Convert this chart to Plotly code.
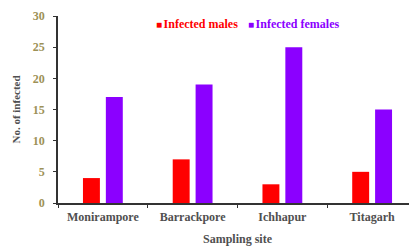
import plotly.graph_objects as go

sites = ["Monirampore", "Barrackpore", "Ichhapur", "Titagarh"]
males = [4, 7, 3, 5]
females = [17, 19, 25, 15]
y_ticks = [0, 5, 10, 15, 20, 25, 30]
series_names = ["Infected males", "Infected females"]

RED = "#ff0000"
PURPLE = "#8b00ff"
FONT = "Liberation Serif"
GREY = "#505050"

fig = go.Figure()
fig.add_trace(go.Bar(x=sites, y=males, marker=dict(color=RED, line=dict(width=0)),
                     name=series_names[0], showlegend=False))
fig.add_trace(go.Bar(x=sites, y=females, marker=dict(color=PURPLE, line=dict(width=0)),
                     name=series_names[1], showlegend=False))

# legend drawn as colored text keys
for xpos, name, col in [(0.268, series_names[0], RED), (0.523, series_names[1], PURPLE)]:
    fig.add_annotation(xref="paper", yref="paper", x=xpos, y=0.958, xanchor="left",
                       yanchor="middle", showarrow=False,
                       text=(f"<span style='font-size:10px'>■</span>"
                             f"<span style='font-size:6px'> </span><b>{name}</b>"),
                       font=dict(family=FONT, size=12, color=col))

# page body has an 8px margin, so the figure is sized/offset to compensate
fig.update_layout(
    width=409, height=238,
    margin=dict(l=50, r=0, t=8, b=43, autoexpand=False),
    plot_bgcolor="white", paper_bgcolor="white",
    barmode="group", bargap=0.49, bargroupgap=0.26,
    font=dict(family=FONT, size=12, color=GREY),
    showlegend=False,
    xaxis=dict(
        type="category", range=[-0.5, 3.5], automargin=False,
        showline=True, linecolor="#333333", linewidth=1.5,
        ticks="outside", ticklen=3, tickcolor="#333333", tickson="boundaries",
        tickvals=sites, ticktext=[f"<b>{s}</b>" for s in sites],
        tickfont=dict(family=FONT, size=12, color=GREY),
        ticklabelstandoff=2,
        title=dict(text="<b>Sampling site</b>", font=dict(family=FONT, size=12, color=GREY),
                   standoff=12),
        showgrid=False, zeroline=False,
    ),
    yaxis=dict(
        range=[0, 30], tickvals=y_ticks, ticktext=[f"<b>{v}</b>" for v in y_ticks],
        automargin=False,
        showline=True, linecolor="#333333", linewidth=1.5,
        ticks="outside", ticklen=3, tickcolor="#333333",
        tickfont=dict(family=FONT, size=12, color="#9d9157"),
        ticklabelstandoff=6,
        title=dict(text="<b>No. of infected</b>", font=dict(family=FONT, size=11, color=GREY),
                   standoff=10),
        showgrid=False, zeroline=False,
    ),
)

fig.write_html("out.html")
